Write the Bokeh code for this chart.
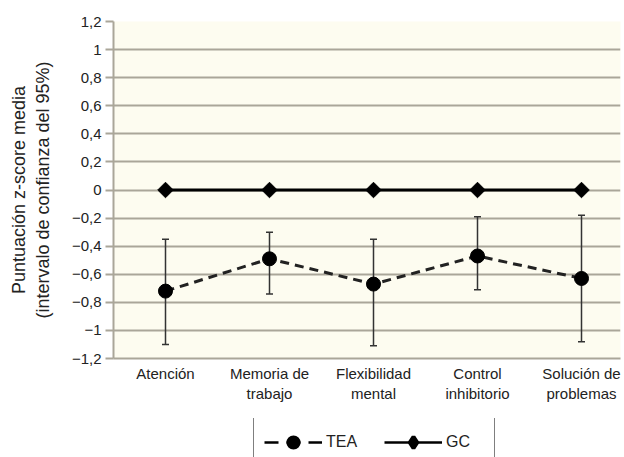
import math
from bokeh.plotting import figure
from bokeh.layouts import column
from bokeh.models import Range1d, FixedTicker, Whisker, ColumnDataSource, Legend, LegendItem, TeeHead
from bokeh.embed import file_html
from bokeh.resources import INLINE

categories = ["Atención", "Memoria de\ntrabajo", "Flexibilidad\nmental", "Control\ninhibitorio", "Solución de\nproblemas"]
tea_mean = [-0.72, -0.49, -0.67, -0.47, -0.63]
tea_upper = [-0.35, -0.30, -0.35, -0.19, -0.18]
tea_lower = [-1.10, -0.74, -1.11, -0.71, -1.08]
gc_mean = [0.0, 0.0, 0.0, 0.0, 0.0]
series_names = ["TEA", "GC"]
y_ticks = [-1.2, -1.0, -0.8, -0.6, -0.4, -0.2, 0.0, 0.2, 0.4, 0.6, 0.8, 1.0, 1.2]
y_tick_labels = ["−1,2", "−1", "−0,8", "−0,6", "−0,4", "−0,2", "0", "0,2", "0,4", "0,6", "0,8", "1", "1,2"]

FONT = "Liberation Sans"
x_pos = [i + 0.5 for i in range(len(categories))]

src = ColumnDataSource(dict(x=x_pos, tea=tea_mean, up=tea_upper, lo=tea_lower, gc=gc_mean))

p = figure(width=624, height=418, output_backend="svg", toolbar_location=None,
           x_range=Range1d(0, 4.875), y_range=Range1d(-1.2, 1.2),
           min_border_left=113, min_border_right=4, min_border_top=21, min_border_bottom=60)
p.background_fill_color = "#fdfcf0"
p.border_fill_color = "white"
p.outline_line_color = None

grid_col = "#aaa699"
p.xgrid.grid_line_color = None
p.ygrid.grid_line_color = grid_col
p.ygrid.grid_line_width = 2
p.ygrid.ticker = FixedTicker(ticks=y_ticks)

p.yaxis.ticker = FixedTicker(ticks=y_ticks)
p.yaxis.major_label_overrides = dict(zip(y_ticks, y_tick_labels))
p.yaxis.axis_line_color = grid_col
p.yaxis.axis_line_width = 2
p.yaxis.major_tick_line_color = grid_col
p.yaxis.major_tick_line_width = 2
p.yaxis.major_tick_in = 0
p.yaxis.major_tick_out = 8
p.yaxis.minor_tick_line_color = None
p.yaxis.major_label_text_font = FONT
p.yaxis.major_label_text_font_size = "15px"
p.yaxis.major_label_text_color = "#222222"
p.yaxis.major_label_standoff = 4
p.yaxis.axis_label = "Puntuación z-score media\n(intervalo de confianza del 95%)"
p.yaxis.axis_label_text_font = FONT
p.yaxis.axis_label_text_font_size = "18px"
p.yaxis.axis_label_text_font_style = "normal"
p.yaxis.axis_label_text_color = "#222222"
p.yaxis.axis_label_standoff = 16

p.xaxis.ticker = FixedTicker(ticks=x_pos)
p.xaxis.major_label_overrides = dict(zip(x_pos, categories))
p.xaxis.axis_line_color = grid_col
p.xaxis.axis_line_width = 2
p.xaxis.major_tick_line_color = None
p.xaxis.minor_tick_line_color = None
p.xaxis.major_label_text_font = FONT
p.xaxis.major_label_text_font_size = "15px"
p.xaxis.major_label_text_color = "#222222"
p.xaxis.major_label_standoff = 0

# error bars
wh = Whisker(source=src, base="x", upper="up", lower="lo", dimension="height",
             line_color="#333333", line_width=1.5,
             upper_head=TeeHead(size=7, line_color="#333333", line_width=1.5),
             lower_head=TeeHead(size=7, line_color="#333333", line_width=1.5))
p.add_layout(wh)

diamond_angle = math.pi / 4
p.line("x", "gc", source=src, line_color="black", line_width=3)
p.scatter("x", "gc", source=src, marker="square", angle=diamond_angle, size=11,
          fill_color="black", line_color="black")
p.line("x", "tea", source=src, line_color="#222222", line_width=3, line_dash="9 6")
p.scatter("x", "tea", source=src, marker="circle", size=14, fill_color="black", line_color="black")

# legend strip below the chart
lg = figure(width=624, height=60, output_backend="svg", toolbar_location=None,
            x_range=Range1d(0, 1), y_range=Range1d(0, 1),
            x_axis_location=None, y_axis_location=None, min_border=0)
lg.outline_line_color = None
lg.grid.grid_line_color = None
lg.background_fill_color = "white"
lg.border_fill_color = "white"

nan_src = ColumnDataSource(dict(x=[float("nan")], y=[float("nan")]))
l1 = lg.line("x", "y", source=nan_src, line_color="black", line_width=2.5, line_dash="14 8")
m1 = lg.scatter("x", "y", source=nan_src, marker="circle", fill_color="black", line_color="black",
                line_width=3)
l2 = lg.line("x", "y", source=nan_src, line_color="black", line_width=2.5)
m2 = lg.scatter("x", "y", source=nan_src, marker="diamond",
                fill_color="black", line_color="black", line_width=4)

legend = Legend(items=[LegendItem(label=series_names[0], renderers=[l1, m1]),
                       LegendItem(label=series_names[1], renderers=[l2, m2])],
                orientation="horizontal", location=(140, 11),
                glyph_width=58, glyph_height=28, label_standoff=4, label_width=38,
                spacing=20, padding=10, margin=0, border_line_color="black", border_line_width=1.5,
                label_text_font=FONT, label_text_font_size="16px", label_text_color="#222222",
                background_fill_color="white", background_fill_alpha=1)
lg.add_layout(legend, "center")

open("out.html", "w").write(file_html(column(p, lg, spacing=0), INLINE))
